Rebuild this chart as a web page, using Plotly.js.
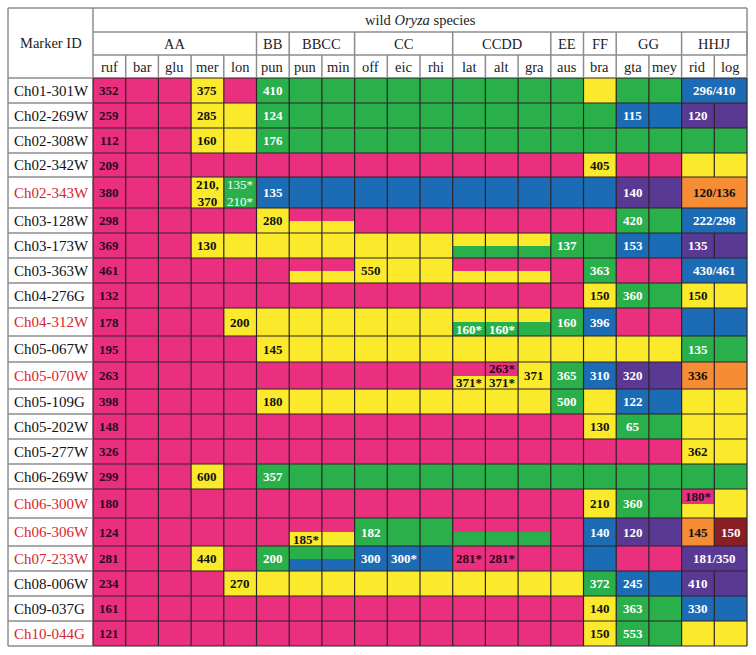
<!DOCTYPE html>
<html>
<head>
<meta charset="utf-8">
<script src="https://cdn.plot.ly/plotly-3.0.1.min.js"></script>
<style>
    body { margin: 0; background: #fff; }
    #chart { width: 756px; height: 655px; }
</style>
</head>
<body>
<div id="chart"></div>
<script>
// genome groups and the species under them
const genomes = ['AA', 'BB', 'BBCC', 'CC', 'CCDD', 'EE', 'FF', 'GG', 'HHJJ'];
const genomeSpan = [5, 1, 2, 3, 3, 1, 1, 2, 2];
const species = ['ruf', 'bar', 'glu', 'mer', 'lon', 'pun', 'pun', 'min', 'off', 'eic',
    'rhi', 'lat', 'alt', 'gra', 'aus', 'bra', 'gta', 'mey', 'rid', 'log'];

const markers = ['Ch01-301W', 'Ch02-269W', 'Ch02-308W', 'Ch02-342W', 'Ch02-343W', 'Ch03-128W',
    'Ch03-173W', 'Ch03-363W', 'Ch04-276G', 'Ch04-312W', 'Ch05-067W', 'Ch05-070W', 'Ch05-109G',
    'Ch05-202W', 'Ch05-277W', 'Ch06-269W', 'Ch06-300W', 'Ch06-306W', 'Ch07-233W', 'Ch08-006W',
    'Ch09-037G', 'Ch10-044G'];
const redMarkers = ['Ch02-343W', 'Ch04-312W', 'Ch05-070W', 'Ch06-300W', 'Ch06-306W', 'Ch07-233W', 'Ch10-044G'];

// allele class per cell, "top/bottom" when a cell holds two
const cellClasses = [
    'P P P Y P G G G G G G G G G G Y G G B B',
    'P P P Y Y G G G G G G G G G G G B B V V',
    'P P P Y Y G G G G G G G G G G G G G G G',
    'P P P P P P P P P P P P P P P Y P P Y Y',
    'P P P Y G B B B B B B B B B B B V V O O',
    'P P P P P Y P/Y P/Y P P P P P P P P G G B B',
    'P P P Y Y Y Y Y Y Y Y Y/G Y/G Y/G G G B B V V',
    'P P P P P P P/Y P/Y Y Y Y P/Y P/Y P/Y P G P P B B',
    'P P P P P P P P P P P P P P P Y G G Y Y',
    'P P P P Y Y Y Y Y Y Y Y/G Y/G Y/G G B P P B B',
    'P P P P P Y Y Y Y Y Y Y Y Y Y Y Y Y G G',
    'P P P P P P P P P P P P/Y P/Y Y G B V V O O',
    'P P P P P Y Y Y Y Y Y Y Y Y G Y B B Y Y',
    'P P P P P P P P P P P P P P P Y G G Y Y',
    'P P P P P P P P P P P P P P P P P P Y Y',
    'P P P Y P G G G G G G G G G G G G G G G',
    'P P P P P P P P P P P P P P P Y G G P/Y Y',
    'P P P P P P P/Y P/Y G G G P/G P/G P/G P B V V O R',
    'P P P Y P G G/B G/B B B B P P P P B P P V V',
    'P P P P Y Y Y Y Y Y Y Y Y Y Y G B B V V',
    'P P P P P P P P P P P P P P P Y G G B B',
    'P P P P P P P P P P P P P P P Y G G Y Y'
];

// rows where rid and log share one cell
const mergedRows = [0, 4, 5, 7, 18];

// [row, column, text, part]  part: f full, t top half, b bottom half, m rid+log
const cellLabels = [
    [0, 0, '352', 'f'], [0, 3, '375', 'f'], [0, 5, '410', 'f'], [0, 18, '296/410', 'm'],
    [1, 0, '259', 'f'], [1, 3, '285', 'f'], [1, 5, '124', 'f'], [1, 16, '115', 'f'], [1, 18, '120', 'f'],
    [2, 0, '112', 'f'], [2, 3, '160', 'f'], [2, 5, '176', 'f'],
    [3, 0, '209', 'f'], [3, 15, '405', 'f'],
    [4, 0, '380', 'f'], [4, 3, '210,<br>370', 'f'], [4, 4, '135*<br>210*', 'f'], [4, 5, '135', 'f'],
    [4, 16, '140', 'f'], [4, 18, '120/136', 'm'],
    [5, 0, '298', 'f'], [5, 5, '280', 'f'], [5, 16, '420', 'f'], [5, 18, '222/298', 'm'],
    [6, 0, '369', 'f'], [6, 3, '130', 'f'], [6, 14, '137', 'f'], [6, 16, '153', 'f'], [6, 18, '135', 'f'],
    [7, 0, '461', 'f'], [7, 8, '550', 'f'], [7, 15, '363', 'f'], [7, 18, '430/461', 'm'],
    [8, 0, '132', 'f'], [8, 15, '150', 'f'], [8, 16, '360', 'f'], [8, 18, '150', 'f'],
    [9, 0, '178', 'f'], [9, 4, '200', 'f'], [9, 11, '160*', 'b'], [9, 12, '160*', 'b'],
    [9, 14, '160', 'f'], [9, 15, '396', 'f'],
    [10, 0, '195', 'f'], [10, 5, '145', 'f'], [10, 18, '135', 'f'],
    [11, 0, '263', 'f'], [11, 11, '371*', 'b'], [11, 12, '263*', 't'], [11, 12, '371*', 'b'],
    [11, 13, '371', 'f'], [11, 14, '365', 'f'], [11, 15, '310', 'f'], [11, 16, '320', 'f'], [11, 18, '336', 'f'],
    [12, 0, '398', 'f'], [12, 5, '180', 'f'], [12, 14, '500', 'f'], [12, 16, '122', 'f'],
    [13, 0, '148', 'f'], [13, 15, '130', 'f'], [13, 16, '65', 'f'],
    [14, 0, '326', 'f'], [14, 18, '362', 'f'],
    [15, 0, '299', 'f'], [15, 3, '600', 'f'], [15, 5, '357', 'f'],
    [16, 0, '180', 'f'], [16, 15, '210', 'f'], [16, 16, '360', 'f'], [16, 18, '180*', 't'],
    [17, 0, '124', 'f'], [17, 6, '185*', 'b'], [17, 8, '182', 'f'], [17, 15, '140', 'f'],
    [17, 16, '120', 'f'], [17, 18, '145', 'f'], [17, 19, '150', 'f'],
    [18, 0, '281', 'f'], [18, 3, '440', 'f'], [18, 5, '200', 'f'], [18, 8, '300', 'f'], [18, 9, '300*', 'f'],
    [18, 11, '281*', 'f'], [18, 12, '281*', 'f'], [18, 18, '181/350', 'm'],
    [19, 0, '234', 'f'], [19, 4, '270', 'f'], [19, 15, '372', 'f'], [19, 16, '245', 'f'], [19, 18, '410', 'f'],
    [20, 0, '161', 'f'], [20, 15, '140', 'f'], [20, 16, '363', 'f'], [20, 18, '330', 'f'],
    [21, 0, '121', 'f'], [21, 15, '150', 'f'], [21, 16, '553', 'f']
];

// ---- look ----
const classes = ['P', 'Y', 'G', 'B', 'V', 'O', 'R'];
const classColor = {P: '#ea2f7f', Y: '#fbe92b', G: '#29b04b', B: '#1c6cb5', V: '#5a3995', O: '#f68c33', R: '#8b1e24'};
const textColor = {P: '#2a0a1a', Y: '#111111', O: '#111111', G: '#ffffff', B: '#ffffff', V: '#ffffff', R: '#ffffff'};
const serif = '"Liberation Serif", "Times New Roman", serif';

// table geometry in plot units (1 unit = 1px)
const tableLeft = 8, tableTop = 8, idRight = 93, colW = 32.7;
const headerEdges = [8, 32, 55, 78];
const rowHeights = [25, 25, 25, 24, 31, 25, 25, 25, 25, 28, 26, 27, 25, 25, 25, 25, 29, 28, 25, 25, 25, 25];
const tableRight = idRight + species.length * colW;

const rowEdges = [headerEdges[3]];
rowHeights.forEach(h => rowEdges.push(rowEdges[rowEdges.length - 1] + h));
const tableBottom = rowEdges[rowEdges.length - 1];
const colX = i => idRight + i * colW;

// ---- heatmap of half rows ----
const xEdges = species.map((s, i) => colX(i)).concat([colX(species.length)]);
const yEdges = [];
const z = [];
cellClasses.forEach((line, r) => {
    const cells = line.split(' ');
    const top = cells.map(c => classes.indexOf(c.split('/')[0]));
    const bottom = cells.map(c => classes.indexOf(c.split('/')[1] || c.split('/')[0]));
    yEdges.push(rowEdges[r], (rowEdges[r] + rowEdges[r + 1]) / 2);
    z.push(top, bottom);
});
yEdges.push(tableBottom);

const colorscale = [];
classes.forEach((c, k) => {
    colorscale.push([k / classes.length, classColor[c]]);
    colorscale.push([(k + 1) / classes.length, classColor[c]]);
});

const cells = {
    type: 'heatmap',
    x: xEdges,
    y: yEdges,
    z: z,
    zmin: -0.5,
    zmax: classes.length - 0.5,
    colorscale: colorscale,
    showscale: false,
    hoverinfo: 'skip'
};

// ---- grid lines ----
function lineTrace(segments, color, width) {
    const xs = [], ys = [];
    for (const [x0, y0, x1, y1] of segments) {
        xs.push(x0, x1, null);
        ys.push(y0, y1, null);
    }
    return {type: 'scatter', mode: 'lines', x: xs, y: ys, hoverinfo: 'skip',
        line: {color: color, width: width}, connectgaps: false};
}

const darkSegs = [];
rowEdges.forEach(e => darkSegs.push([idRight, e, tableRight, e]));
for (let i = 0; i <= species.length; i++) {
    for (let r = 0; r < markers.length; r++) {
        if (i === 18 + 1 && mergedRows.includes(r)) continue;
        darkSegs.push([colX(i), rowEdges[r], colX(i), rowEdges[r + 1]]);
    }
}

const graySegs = [];
graySegs.push([tableLeft, tableTop, tableRight, tableTop]);
graySegs.push([tableLeft, tableTop, tableLeft, tableBottom]);
graySegs.push([tableRight, tableTop, tableRight, headerEdges[3]]);
graySegs.push([idRight, tableTop, idRight, headerEdges[3]]);
graySegs.push([idRight, headerEdges[1], tableRight, headerEdges[1]]);
graySegs.push([idRight, headerEdges[2], tableRight, headerEdges[2]]);
rowEdges.forEach(e => graySegs.push([tableLeft, e, idRight, e]));
let acc = 0;
genomeSpan.forEach(n => {
    acc += n;
    graySegs.push([colX(acc), headerEdges[1], colX(acc), headerEdges[2]]);
});
for (let i = 1; i < species.length; i++) {
    graySegs.push([colX(i), headerEdges[2], colX(i), headerEdges[3]]);
}

// ---- texts ----
const annotations = [];
function addText(x, y, text, opts) {
    annotations.push(Object.assign({
        x: x, y: y, xref: 'x', yref: 'y', text: text, showarrow: false,
        xanchor: 'center', yanchor: 'middle',
        font: {family: serif, size: 14.5, color: '#222'}
    }, opts || {}));
}

addText((tableLeft + idRight) / 2, (headerEdges[0] + headerEdges[3]) / 2, 'Marker ID');
addText((idRight + tableRight) / 2, (headerEdges[0] + headerEdges[1]) / 2, 'wild <i>Oryza</i> species');
acc = 0;
genomes.forEach((g, k) => {
    addText(colX(acc + genomeSpan[k] / 2), (headerEdges[1] + headerEdges[2]) / 2, g);
    acc += genomeSpan[k];
});
species.forEach((s, i) => addText(colX(i + 0.5), (headerEdges[2] + headerEdges[3]) / 2, s));

markers.forEach((m, r) => {
    addText(tableLeft + 4, (rowEdges[r] + rowEdges[r + 1]) / 2, m, {
        xanchor: 'left',
        font: {family: serif, size: 15, color: redMarkers.includes(m) ? '#d6262d' : '#111'}
    });
});

cellLabels.forEach(([r, c, text, part]) => {
    const top = rowEdges[r], bot = rowEdges[r + 1], mid = (top + bot) / 2;
    const cls = cellClasses[r].split(' ')[c].split('/');
    let y = mid, k = cls[0];
    if (part === 't') y = (top + mid) / 2;
    if (part === 'b') { y = (mid + bot) / 2; k = cls[1] || cls[0]; }
    const x = part === 'm' ? colX(c + 1) : colX(c + 0.5);
    const light = text.includes('<br>') && k === 'G';
    addText(x, y, text, {
        font: {family: serif, size: 13, color: textColor[k], weight: light ? 'normal' : 'bold'}
    });
});

const layout = {
    width: 756,
    height: 655,
    margin: {l: 0, r: 0, t: 0, b: 0},
    paper_bgcolor: '#ffffff',
    plot_bgcolor: '#ffffff',
    showlegend: false,
    xaxis: {range: [0, 756], visible: false, fixedrange: true},
    yaxis: {range: [655, 0], visible: false, fixedrange: true},
    annotations: annotations
};

Plotly.newPlot('chart', [cells, lineTrace(darkSegs, '#2e2328', 1.2), lineTrace(graySegs, '#8c8c8c', 1.5)],
    layout, {displayModeBar: false, staticPlot: true});
</script>
</body>
</html>
